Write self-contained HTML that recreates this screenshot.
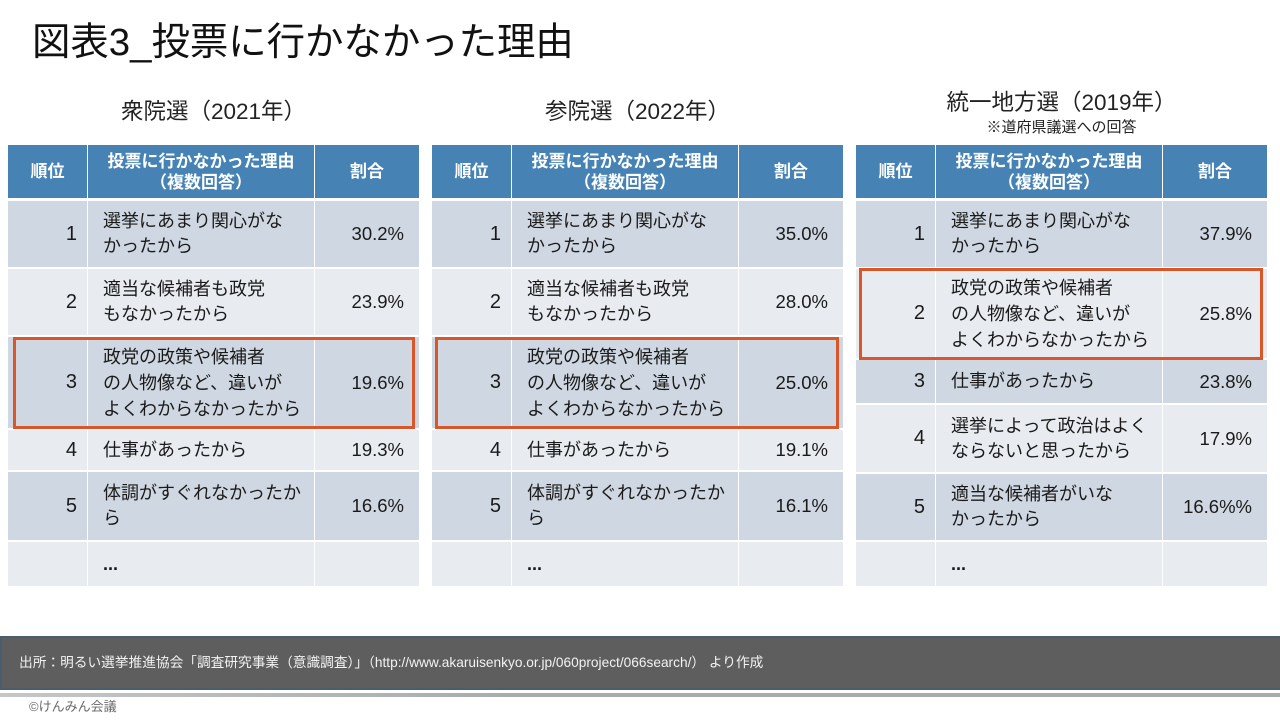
<!DOCTYPE html>
<html lang="ja">
<head>
<meta charset="utf-8">
<style>
  html,body{margin:0;padding:0;}
  body{width:1280px;height:720px;position:relative;background:#fff;overflow:hidden;
       font-family:"Liberation Sans","Noto Sans CJK JP",sans-serif;color:#1a1a1a;}
  .abs{position:absolute;}
  .title{left:32px;top:18px;font-size:38.4px;line-height:50px;white-space:nowrap;color:#111;}
  .sub{font-size:22.5px;line-height:30px;text-align:center;white-space:nowrap;color:#222;}
  .note{font-size:15px;line-height:18px;text-align:center;white-space:nowrap;color:#222;}
  .tbl{position:absolute;top:145px;width:411px;height:441px;}
  .c{position:absolute;display:flex;align-items:center;box-sizing:border-box;white-space:nowrap;}
  .h{background:#4683b4;color:#fff;font-weight:bold;font-size:17px;line-height:21px;justify-content:center;text-align:center;}
  .d{background:#cfd8e2;}
  .l{background:#e8ecf1;}
  .rk{left:0;width:79px;justify-content:flex-end;padding-right:10px;font-size:20px;color:#1a1a1a;}
  .rs{left:80px;width:226px;padding-left:15px;font-size:18px;line-height:25px;color:#1a1a1a;}
  .rs3{line-height:26px;}
  .pc{left:307px;width:104px;justify-content:flex-end;padding-right:15px;font-size:18.5px;color:#1a1a1a;}
  .hr{left:0;width:79px;}
  .hs{left:80px;width:226px;}
  .hp{left:307px;width:104px;}
  .red{position:absolute;border:3px solid #d8562a;box-sizing:border-box;}
  .foot{left:0;top:636px;width:1280px;height:54px;background:#5e5e5e;border-top:2px solid #4a5d6d;border-bottom:2px solid #4a5d6d;border-left:2px solid #4a5d6d;box-sizing:border-box;}
  .foottxt{left:19px;top:654px;font-size:13.7px;line-height:18px;color:#f2f2f2;white-space:nowrap;}
  .bar{left:0;top:693px;width:1280px;height:4px;background:linear-gradient(to right,#c4c7c5,#a8acaa 40%,#a8acaa);}
  .copy{left:29px;top:698px;font-size:13px;line-height:18px;color:#6a6a6a;white-space:nowrap;}
  .dots{font-weight:bold;}
</style>
</head>
<body>

<div class="abs title">図表3_投票に行かなかった理由</div>

<div class="abs sub" style="left:8px;width:411px;top:97px;">衆院選（2021年）</div>
<div class="abs sub" style="left:432px;width:411px;top:97px;">参院選（2022年）</div>
<div class="abs sub" style="left:856px;width:411px;top:88px;">統一地方選（2019年）</div>
<div class="abs note" style="left:856px;width:411px;top:119px;">※道府県議選への回答</div>

<!-- Table 1 -->
<div class="tbl" style="left:8px;">
  <div class="c h hr" style="top:0;height:53px;">順位</div>
  <div class="c h hs" style="top:0;height:53px;">投票に行かなかった理由<br>（複数回答）</div>
  <div class="c h hp" style="top:0;height:53px;">割合</div>

  <div class="c d rk" style="top:56px;height:66px;">1</div>
  <div class="c d rs" style="top:56px;height:66px;">選挙にあまり関心がな<br>かったから</div>
  <div class="c d pc" style="top:56px;height:66px;">30.2%</div>

  <div class="c l rk" style="top:124px;height:66px;">2</div>
  <div class="c l rs" style="top:124px;height:66px;">適当な候補者も政党<br>もなかったから</div>
  <div class="c l pc" style="top:124px;height:66px;">23.9%</div>

  <div class="c d rk" style="top:192px;height:91px;">3</div>
  <div class="c d rs rs3" style="top:192px;height:91px;">政党の政策や候補者<br>の人物像など、違いが<br>よくわからなかったから</div>
  <div class="c d pc" style="top:192px;height:91px;">19.6%</div>

  <div class="c l rk" style="top:285px;height:40px;">4</div>
  <div class="c l rs" style="top:285px;height:40px;">仕事があったから</div>
  <div class="c l pc" style="top:285px;height:40px;">19.3%</div>

  <div class="c d rk" style="top:327px;height:68px;">5</div>
  <div class="c d rs" style="top:327px;height:68px;">体調がすぐれなかったか<br>ら</div>
  <div class="c d pc" style="top:327px;height:68px;">16.6%</div>

  <div class="c l rk" style="top:397px;height:44px;"></div>
  <div class="c l rs" style="top:397px;height:44px;"><span class="dots">...</span></div>
  <div class="c l pc" style="top:397px;height:44px;"></div>
</div>

<!-- Table 2 -->
<div class="tbl" style="left:432px;">
  <div class="c h hr" style="top:0;height:53px;">順位</div>
  <div class="c h hs" style="top:0;height:53px;">投票に行かなかった理由<br>（複数回答）</div>
  <div class="c h hp" style="top:0;height:53px;">割合</div>

  <div class="c d rk" style="top:56px;height:66px;">1</div>
  <div class="c d rs" style="top:56px;height:66px;">選挙にあまり関心がな<br>かったから</div>
  <div class="c d pc" style="top:56px;height:66px;">35.0%</div>

  <div class="c l rk" style="top:124px;height:66px;">2</div>
  <div class="c l rs" style="top:124px;height:66px;">適当な候補者も政党<br>もなかったから</div>
  <div class="c l pc" style="top:124px;height:66px;">28.0%</div>

  <div class="c d rk" style="top:192px;height:91px;">3</div>
  <div class="c d rs rs3" style="top:192px;height:91px;">政党の政策や候補者<br>の人物像など、違いが<br>よくわからなかったから</div>
  <div class="c d pc" style="top:192px;height:91px;">25.0%</div>

  <div class="c l rk" style="top:285px;height:40px;">4</div>
  <div class="c l rs" style="top:285px;height:40px;">仕事があったから</div>
  <div class="c l pc" style="top:285px;height:40px;">19.1%</div>

  <div class="c d rk" style="top:327px;height:68px;">5</div>
  <div class="c d rs" style="top:327px;height:68px;">体調がすぐれなかったか<br>ら</div>
  <div class="c d pc" style="top:327px;height:68px;">16.1%</div>

  <div class="c l rk" style="top:397px;height:44px;"></div>
  <div class="c l rs" style="top:397px;height:44px;"><span class="dots">...</span></div>
  <div class="c l pc" style="top:397px;height:44px;"></div>
</div>

<!-- Table 3 -->
<div class="tbl" style="left:856px;">
  <div class="c h hr" style="top:0;height:53px;">順位</div>
  <div class="c h hs" style="top:0;height:53px;">投票に行かなかった理由<br>（複数回答）</div>
  <div class="c h hp" style="top:0;height:53px;">割合</div>

  <div class="c d rk" style="top:56px;height:66px;">1</div>
  <div class="c d rs" style="top:56px;height:66px;">選挙にあまり関心がな<br>かったから</div>
  <div class="c d pc" style="top:56px;height:66px;">37.9%</div>

  <div class="c l rk" style="top:124px;height:89px;">2</div>
  <div class="c l rs rs3" style="top:124px;height:89px;">政党の政策や候補者<br>の人物像など、違いが<br>よくわからなかったから</div>
  <div class="c l pc" style="top:124px;height:89px;">25.8%</div>

  <div class="c d rk" style="top:215px;height:43px;">3</div>
  <div class="c d rs" style="top:215px;height:43px;">仕事があったから</div>
  <div class="c d pc" style="top:215px;height:43px;">23.8%</div>

  <div class="c l rk" style="top:260px;height:67px;">4</div>
  <div class="c l rs" style="top:260px;height:67px;">選挙によって政治はよく<br>ならないと思ったから</div>
  <div class="c l pc" style="top:260px;height:67px;">17.9%</div>

  <div class="c d rk" style="top:329px;height:66px;">5</div>
  <div class="c d rs" style="top:329px;height:66px;">適当な候補者がいな<br>かったから</div>
  <div class="c d pc" style="top:329px;height:66px;">16.6%%</div>

  <div class="c l rk" style="top:397px;height:44px;"></div>
  <div class="c l rs" style="top:397px;height:44px;"><span class="dots">...</span></div>
  <div class="c l pc" style="top:397px;height:44px;"></div>
</div>

<!-- Highlight boxes -->
<div class="red" style="left:13px;top:337px;width:402px;height:92px;"></div>
<div class="red" style="left:435px;top:337px;width:404px;height:92px;"></div>
<div class="red" style="left:859px;top:268px;width:404px;height:92px;"></div>

<!-- Footer -->
<div class="abs foot"></div>
<div class="abs foottxt">出所：明るい選挙推進協会「調査研究事業（意識調査）」（http://www.akaruisenkyo.or.jp/060project/066search/） より作成</div>
<div class="abs bar"></div>
<div class="abs copy">©けんみん会議</div>

</body>
</html>
